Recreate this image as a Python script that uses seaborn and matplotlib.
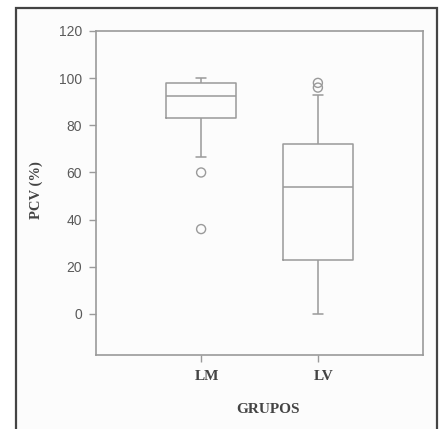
import pandas as pd
import matplotlib
matplotlib.use("Agg")
import matplotlib.pyplot as plt
import matplotlib.patches as patches
import matplotlib.transforms as mtransforms
import seaborn as sns

# values (points inside the whiskers)
lm_values = [66.5, 75, 80, 83, 86, 90, 92.5, 94, 96, 98, 99, 100, 100]
lv_values = [0, 10, 18, 23, 35, 45, 54, 60, 65, 72, 80, 88, 93]
# points shown as open circles
lm_outliers = [60, 36]
lv_outliers = [98, 96]
groups = ["LM", "LV"]
yticks = [0, 20, 40, 60, 80, 100, 120]

box_df = pd.DataFrame({
    "grupo": ["LM"] * len(lm_values) + ["LV"] * len(lv_values),
    "pcv": lm_values + lv_values,
})
out_df = pd.DataFrame({
    "grupo": ["LM"] * len(lm_outliers) + ["LV"] * len(lv_outliers),
    "pcv": lm_outliers + lv_outliers,
})

sns.set_style("white")
line_col = "#9a9a9a"
text_col = "#444444"

fig = plt.figure(figsize=(4.43, 4.29), dpi=100, facecolor="white")
frame = patches.Rectangle((16 / 443, -0.05), (437 - 16) / 443, 1 - 8 / 429 + 0.05,
                          transform=fig.transFigure, facecolor="#fcfcfc",
                          edgecolor="#444444", linewidth=1.6, zorder=-10)
fig.patches.append(frame)
ax = fig.add_axes([96 / 443, 1 - 355 / 429, (423 - 96) / 443, (355 - 31) / 429])
ax.set_facecolor("#fcfcfc")

sns.boxplot(data=box_df, x="grupo", y="pcv", order=groups, ax=ax, whis=(0, 100),
            width=0.6, showfliers=False, fill=False, color=line_col, linewidth=1.1,
            medianprops={"color": line_col, "linewidth": 1.1},
            capwidths=0.09)
sns.stripplot(data=out_df, x="grupo", y="pcv", order=groups, ax=ax, jitter=False,
              marker="o", size=6.5, color="none", edgecolor=line_col, linewidth=1.0)

ax.set_xlim(-0.9, 1.9)
ax.set_ylim(-17.4, 120)
ax.set_yticks(yticks)
ax.set_yticklabels([str(t) for t in yticks], family="Liberation Sans", fontsize=10, color="#5a5a5a")
ax.set_xticks([0, 1])
ax.set_xticklabels(groups, family="Liberation Serif", fontweight="bold", fontsize=11, color=text_col)
ax.tick_params(axis="both", direction="out", length=5, width=1, color=line_col, left=True, bottom=True)
ax.tick_params(axis="y", pad=5)
ax.tick_params(axis="x", pad=6)
shift = mtransforms.ScaledTranslation(6 / 100, 0, fig.dpi_scale_trans)
for lab in ax.get_xticklabels():
    lab.set_transform(lab.get_transform() + shift)
for s in ax.spines.values():
    s.set_color(line_col)
    s.set_linewidth(1.2)

ax.set_ylabel("PCV (%)", family="Liberation Serif", fontweight="bold", fontsize=10.5, color=text_col)
ax.set_xlabel("GRUPOS", family="Liberation Serif", fontweight="bold", fontsize=11, color=text_col)
ax.yaxis.set_label_coords(-0.162, 0.51)
ax.xaxis.set_label_coords(0.526, -0.148)

fig.savefig("out.png", dpi=100, facecolor="white")
